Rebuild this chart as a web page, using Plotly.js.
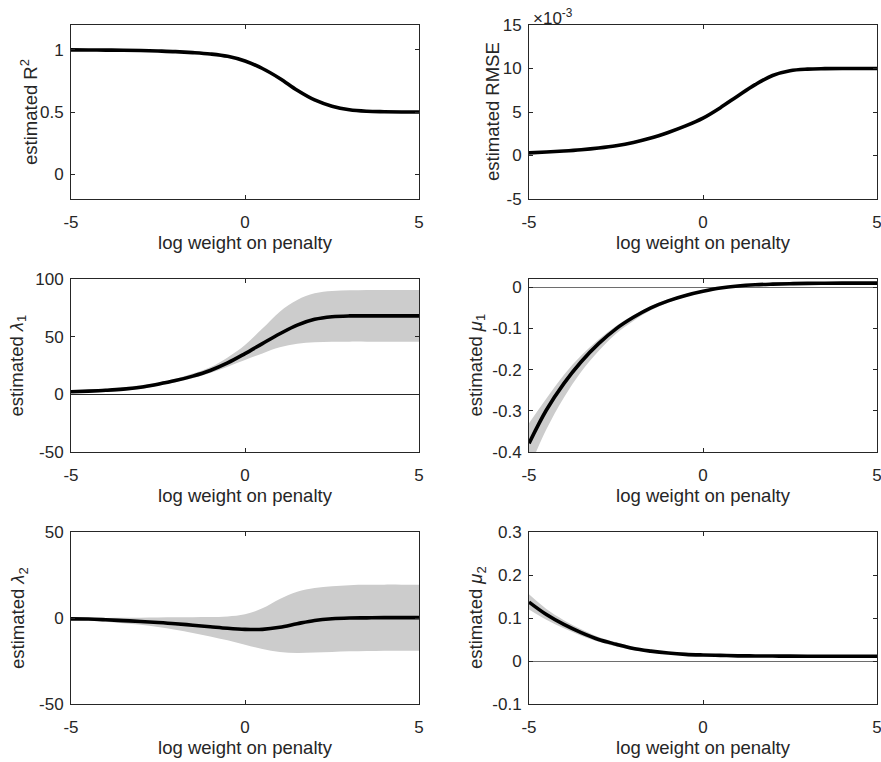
<!DOCTYPE html>
<html>
<head>
<meta charset="utf-8">
<script src="https://cdn.plot.ly/plotly-3.0.1.min.js"></script>
<style>
  html, body { margin: 0; padding: 0; background: #ffffff; overflow: hidden; }
  #chart { width: 881px; height: 762px; }
</style>
</head>
<body>
<div id="chart"></div>
<script>
// ---- data ----
const logWeight = [-5, -4.5, -4, -3.5, -3, -2.5, -2, -1.5, -1, -0.5, 0, 0.5, 1, 1.5, 2, 2.5, 3, 3.5, 4, 4.5, 5];

const r2Mean = [1.000, 0.999, 0.998, 0.997, 0.995, 0.991, 0.986, 0.978, 0.967, 0.948, 0.910, 0.850, 0.770, 0.675, 0.597, 0.547, 0.518, 0.506, 0.502, 0.500, 0.500];

const rmseMean = [0.00030, 0.00040, 0.00052, 0.00067, 0.00087, 0.00113, 0.00150, 0.00200, 0.00265, 0.00340, 0.00430, 0.00550, 0.00685, 0.00815, 0.00920, 0.00975, 0.00993, 0.00998, 0.01000, 0.01000, 0.01000];

const lambda1Mean  = [2.3, 2.8, 3.5, 4.5, 6.2, 8.8, 11.9, 15.8, 20.7, 27.2, 35.3, 44.0, 52.5, 60.0, 65.0, 67.3, 68.0, 68.0, 68.0, 68.0, 68.0];
const lambda1Upper = [3.5, 4.0, 4.8, 6.1, 7.8, 10.2, 13.5, 18.0, 23.5, 32.0, 42.8, 57.0, 71.7, 81.8, 87.6, 89.6, 90.2, 90.5, 90.5, 90.5, 90.5];
const lambda1Lower = [1.3, 1.6, 2.1, 3.0, 4.6, 7.4, 10.5, 14.0, 18.5, 24.0, 29.8, 35.5, 40.8, 43.9, 45.1, 45.6, 45.7, 45.7, 45.7, 45.7, 45.7];

const mu1Mean  = [-0.379, -0.298, -0.234, -0.181, -0.137, -0.101, -0.073, -0.050, -0.033, -0.020, -0.010, -0.002, 0.003, 0.006, 0.0075, 0.0085, 0.0093, 0.0097, 0.010, 0.010, 0.010];
const mu1Upper = [-0.330, -0.270, -0.213, -0.166, -0.127, -0.094, -0.068, -0.046, -0.030, -0.017, -0.008, 0.000, 0.005, 0.008, 0.0095, 0.0105, 0.011, 0.0115, 0.0115, 0.0115, 0.0115];
const mu1Lower = [-0.440, -0.345, -0.268, -0.205, -0.155, -0.113, -0.082, -0.056, -0.037, -0.023, -0.012, -0.004, 0.001, 0.004, 0.0055, 0.0065, 0.0075, 0.008, 0.008, 0.008, 0.008];

const lambda2Mean  = [-0.5, -0.6, -1.0, -1.5, -2.0, -2.6, -3.3, -4.2, -5.1, -6.0, -6.6, -6.6, -5.4, -3.3, -1.4, -0.4, 0.0, 0.1, 0.2, 0.2, 0.2];
const lambda2Upper = [0.0, 0.0, 0.0, 0.1, 0.2, 0.3, 0.4, 0.5, 0.6, 0.9, 2.2, 5.6, 11.0, 15.2, 17.4, 18.5, 19.1, 19.3, 19.4, 19.4, 19.4];
const lambda2Lower = [-1.0, -1.5, -2.2, -3.0, -3.9, -5.2, -6.8, -8.7, -10.7, -13.0, -15.5, -18.0, -19.8, -20.3, -20.0, -19.7, -19.4, -19.2, -19.0, -19.0, -19.0];

const mu2Mean  = [0.137, 0.108, 0.085, 0.066, 0.050, 0.039, 0.029, 0.023, 0.0185, 0.0155, 0.014, 0.013, 0.012, 0.0118, 0.0115, 0.0113, 0.0112, 0.0111, 0.011, 0.011, 0.011];
const mu2Upper = [0.155, 0.121, 0.095, 0.074, 0.056, 0.044, 0.033, 0.026, 0.021, 0.018, 0.016, 0.015, 0.014, 0.0135, 0.013, 0.013, 0.013, 0.013, 0.013, 0.013, 0.013];
const mu2Lower = [0.120, 0.096, 0.076, 0.059, 0.045, 0.034, 0.025, 0.020, 0.016, 0.013, 0.012, 0.011, 0.010, 0.010, 0.010, 0.0097, 0.0095, 0.0093, 0.009, 0.009, 0.009];

// tick labels
const xTickVals = [-5, 0, 5];
const xTickText = ['-5', '0', '5'];
const r2TickVals = [0, 0.5, 1];
const r2TickText = ['0', '0.5', '1'];
const rmseTickVals = [-0.005, 0, 0.005, 0.010, 0.015];
const rmseTickText = ['-5', '0', '5', '10', '15'];
const lambda1TickVals = [-50, 0, 50, 100];
const lambda1TickText = ['-50', '0', '50', '100'];
const mu1TickVals = [-0.4, -0.3, -0.2, -0.1, 0];
const mu1TickText = ['-0.4', '-0.3', '-0.2', '-0.1', '0'];
const lambda2TickVals = [-50, 0, 50];
const lambda2TickText = ['-50', '0', '50'];
const mu2TickVals = [-0.1, 0, 0.1, 0.2, 0.3];
const mu2TickText = ['-0.1', '0', '0.1', '0.2', '0.3'];

const xLabel = 'log weight on penalty';
const yLabels = [
  'estimated R<sup>2</sup>',
  'estimated RMSE',
  'estimated <i>λ</i><sub>1</sub>',
  'estimated <i>μ</i><sub>1</sub>',
  'estimated <i>λ</i><sub>2</sub>',
  'estimated <i>μ</i><sub>2</sub>'
];

// ---- styling ----
const FONT = 'Liberation Sans, Arial, Helvetica, sans-serif';
const INK = '#262626';
const BAND = 'rgb(204,204,204)';
const W = 881, H = 762;

const panels = [
  {mean: r2Mean, band: null, yr: [-0.2, 1.2], tv: r2TickVals, tt: r2TickText, zero: null, titleX: 29},
  {mean: rmseMean, band: null, yr: [-0.005, 0.015], tv: rmseTickVals, tt: rmseTickText, zero: null, titleX: 492},
  {mean: lambda1Mean, band: [lambda1Lower, lambda1Upper], yr: [-50, 100], tv: lambda1TickVals, tt: lambda1TickText, zero: INK, titleX: 18},
  {mean: mu1Mean, band: [mu1Lower, mu1Upper], yr: [-0.4, 0.02], tv: mu1TickVals, tt: mu1TickText, zero: '#6e6e6e', titleX: 477},
  {mean: lambda2Mean, band: [lambda2Lower, lambda2Upper], yr: [-50, 50], tv: lambda2TickVals, tt: lambda2TickText, zero: INK, titleX: 19},
  {mean: mu2Mean, band: [mu2Lower, mu2Upper], yr: [-0.1, 0.3], tv: mu2TickVals, tt: mu2TickText, zero: '#6e6e6e', titleX: 477}
];

// pixel boxes of the six axes
const colX = [[71, 419], [529, 877]];
const rowY = [[25, 199], [279, 452], [532, 704]];

const traces = [];
const layout = {
  width: W, height: H,
  margin: {l: 0, r: 0, t: 0, b: 0},
  paper_bgcolor: '#ffffff',
  plot_bgcolor: '#ffffff',
  showlegend: false,
  font: {family: FONT, color: INK, size: 17},
  annotations: []
};

panels.forEach((p, i) => {
  const n = i + 1;
  const xa = 'x' + (n === 1 ? '' : n);
  const ya = 'y' + (n === 1 ? '' : n);
  const col = i % 2, row = Math.floor(i / 2);
  const [l, r] = colX[col];
  const [t, b] = rowY[row];

  if (p.band) {
    traces.push({
      x: logWeight, y: p.band[0], xaxis: xa, yaxis: ya,
      mode: 'lines', line: {width: 0, shape: 'spline', color: BAND},
      hoverinfo: 'skip'
    });
    traces.push({
      x: logWeight, y: p.band[1], xaxis: xa, yaxis: ya,
      mode: 'lines', line: {width: 0, shape: 'spline', color: BAND},
      fill: 'tonexty', fillcolor: BAND, hoverinfo: 'skip'
    });
  }
  traces.push({
    x: logWeight, y: p.mean, xaxis: xa, yaxis: ya,
    mode: 'lines', line: {width: 3.6, shape: 'spline', color: '#000000'},
    hoverinfo: 'skip'
  });

  const common = {
    showgrid: false, showline: true, linecolor: INK, linewidth: 1,
    mirror: 'ticks', ticks: 'inside', ticklen: 4, tickwidth: 1, tickcolor: INK,
    tickfont: {family: FONT, size: 17, color: INK},
    ticklabeloverflow: 'allow',
    fixedrange: true
  };
  layout['xaxis' + (n === 1 ? '' : n)] = Object.assign({}, common, {
    domain: [l / W, r / W], anchor: ya, range: [-5, 5],
    tickmode: 'array', tickvals: xTickVals, ticktext: xTickText,
    zeroline: false, ticklabelstandoff: 8,
    title: {text: xLabel, font: {family: FONT, size: 18.5, color: INK}, standoff: 4}
  });
  layout['yaxis' + (n === 1 ? '' : n)] = Object.assign({}, common, {
    domain: [1 - b / H, 1 - t / H], anchor: xa, range: p.yr,
    tickmode: 'array', tickvals: p.tv, ticktext: p.tt,
    zeroline: !!p.zero, zerolinecolor: p.zero || INK, zerolinewidth: 1,
    ticklabelstandoff: 3
  });
  layout.annotations.push({
    text: yLabels[i], xref: 'paper', yref: 'paper',
    x: p.titleX / W, y: 1 - ((t + b) / 2) / H,
    xanchor: 'center', yanchor: 'middle', textangle: -90,
    showarrow: false, font: {family: FONT, size: 18.5, color: INK}
  });
});

layout.annotations.push({
  text: '×10<sup>-3</sup>', xref: 'paper', yref: 'paper',
  x: 531 / W, y: 1 - 17 / H, xanchor: 'left', yanchor: 'middle',
  showarrow: false, font: {family: FONT, size: 17, color: INK}
});

Plotly.newPlot('chart', traces, layout, {displayModeBar: false, staticPlot: true});
</script>
</body>
</html>
